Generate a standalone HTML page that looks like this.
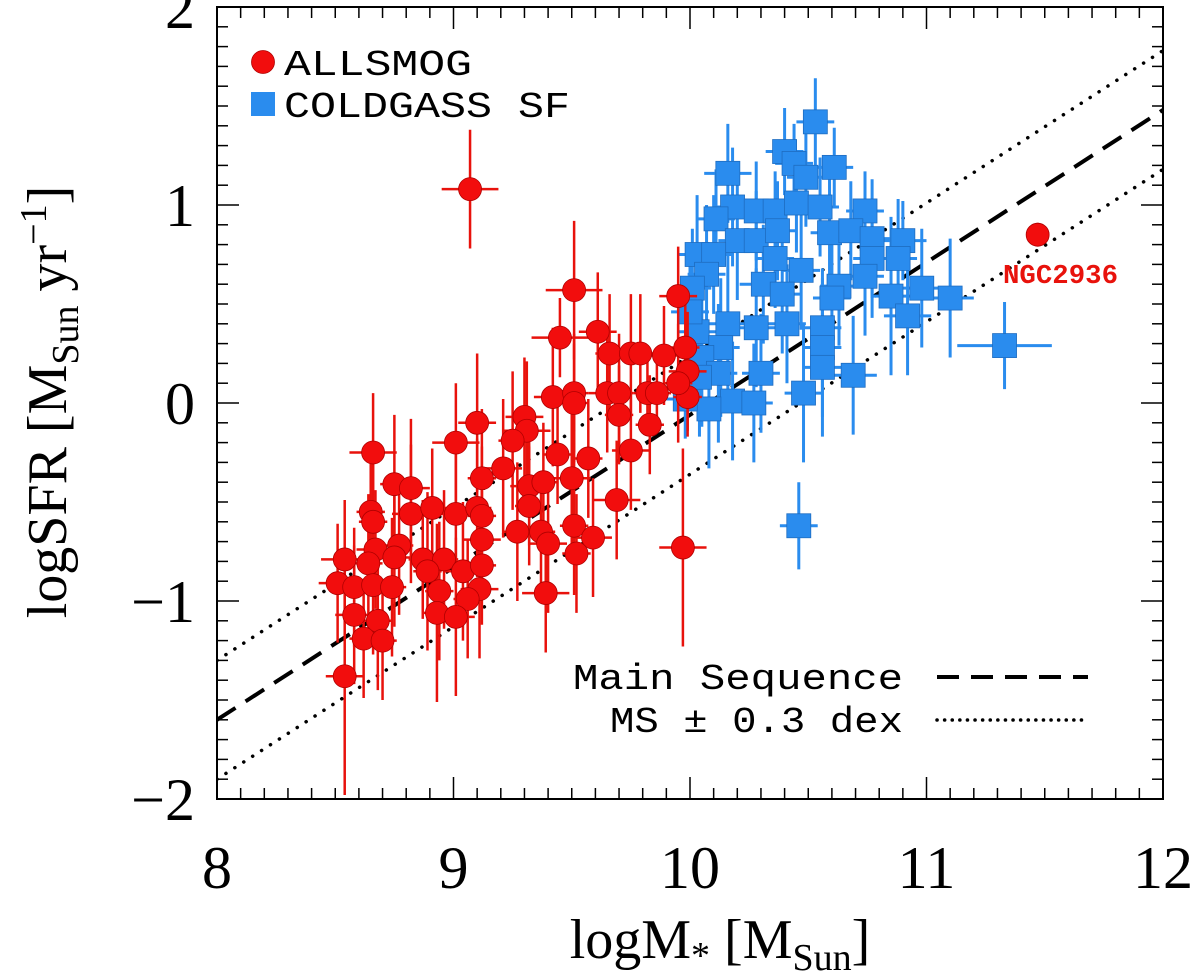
<!DOCTYPE html>
<html><head><meta charset="utf-8"><style>
html,body{margin:0;padding:0;background:#fff;}
svg{display:block;}
</style></head><body>
<svg id="chart" width="1200" height="974" viewBox="0 0 1200 974" xmlns="http://www.w3.org/2000/svg">
<g id="marks"></g>
<g id="axes"></g>
</svg>
<script>
// ---- data ----
const xTicks = [8, 9, 10, 11, 12];
const yTicks = [-2, -1, 0, 1, 2];
const xTickLabels = ["8", "9", "10", "11", "12"];
const yTickLabels = ["\u22122", "\u22121", "0", "1", "2"];
const redX = [9.51,9.45,9.61,9.95,9.66,9.75,9.79,9.89,9.98,9.99,9.99,9.95,9.65,9.70,9.70,9.82,9.86,9.83,9.42,9.51,9.51,9.75,9.44,9.57,9.30,9.31,9.25,9.10,9.01,8.66,9.21,9.12,9.32,9.38,9.50,9.69,9.32,8.75,8.82,8.65,8.66,8.82,8.91,9.01,9.10,9.12,9.12,9.27,9.37,9.40,9.51,9.59,9.52,9.39,8.77,8.67,8.54,8.64,8.75,8.87,8.96,8.89,9.04,9.12,8.51,8.58,8.66,8.74,8.94,9.11,9.06,8.58,8.68,8.93,9.01,8.62,8.70,8.54,9.97,9.07,11.47];
const redY = [0.57,0.33,0.36,0.54,0.25,0.25,0.25,0.24,0.28,0.16,0.03,0.10,0.05,0.05,-0.06,0.05,0.05,-0.11,0.03,0.05,0.00,-0.24,-0.26,-0.28,-0.07,-0.14,-0.19,-0.10,-0.20,-0.25,-0.33,-0.38,-0.42,-0.40,-0.38,-0.49,-0.52,-0.41,-0.43,-0.55,-0.60,-0.56,-0.53,-0.56,-0.53,-0.57,-0.69,-0.65,-0.65,-0.71,-0.62,-0.68,-0.76,-0.96,-0.72,-0.74,-0.79,-0.81,-0.78,-0.79,-0.79,-0.85,-0.85,-0.82,-0.91,-0.93,-0.92,-0.93,-0.95,-0.94,-0.99,-1.07,-1.10,-1.06,-1.08,-1.19,-1.20,-1.38,-0.73,1.08,0.85];
const redXErr = [0.12,0.12,0.08,0.08,0.06,0.06,0.06,0.08,0.06,0.08,0.06,0.06,0.08,0.06,0.06,0.06,0.06,0.06,0.08,0.06,0.06,0.08,0.06,0.06,0.08,0.1,0.06,0.08,0.1,0.1,0.08,0.06,0.08,0.06,0.08,0.1,0.06,0.06,0.08,0.06,0.06,0.08,0.1,0.06,0.06,0.06,0.08,0.06,0.06,0.08,0.06,0.08,0.06,0.1,0.06,0.08,0.1,0.06,0.08,0.06,0.06,0.06,0.08,0.06,0.08,0.06,0.06,0.06,0.06,0.08,0.06,0.08,0.06,0.06,0.08,0.06,0.06,0.08,0.1,0.12,0.04];
const redYErr = [0.35,0.2,0.3,0.25,0.3,0.3,0.3,0.25,0.3,0.3,0.2,0.3,0.3,0.3,0.25,0.2,0.2,0.25,0.35,0.3,0.3,0.3,0.25,0.3,0.3,0.35,0.35,0.35,0.3,0.3,0.35,0.35,0.3,0.3,0.35,0.3,0.3,0.35,0.35,0.25,0.3,0.35,0.3,0.3,0.35,0.35,0.3,0.35,0.3,0.35,0.35,0.3,0.3,0.3,0.35,0.3,0.3,0.35,0.35,0.3,0.35,0.4,0.35,0.3,0.3,0.3,0.35,0.35,0.35,0.35,0.3,0.35,0.35,0.45,0.4,0.3,0.3,0.6,0.5,0.3,0.06];
const blueX = [10.53,10.40,10.44,10.49,10.61,10.16,10.18,10.11,10.28,10.36,10.45,10.55,10.74,10.20,10.28,10.37,10.59,10.68,10.77,10.90,10.03,10.10,10.36,10.07,10.77,10.88,10.47,10.31,10.63,10.74,10.98,11.10,10.01,10.39,10.60,10.85,10.92,10.03,10.16,10.28,10.41,10.56,10.13,10.05,10.56,10.56,10.30,10.12,10.69,10.48,10.18,10.27,10.08,11.33,10.46,9.98,10.00,10.04];
const blueY = [1.42,1.27,1.21,1.14,1.19,1.16,0.99,0.93,0.97,0.97,1.01,0.99,0.97,0.82,0.82,0.87,0.86,0.87,0.83,0.82,0.75,0.75,0.73,0.65,0.73,0.73,0.67,0.60,0.59,0.64,0.58,0.53,0.58,0.55,0.53,0.54,0.44,0.36,0.40,0.38,0.40,0.38,0.28,0.23,0.28,0.18,0.15,0.15,0.14,0.05,0.01,0.00,-0.03,0.29,-0.62,0.02,0.46,0.13];
const blueXErr = [0.08,0.08,0.08,0.08,0.08,0.1,0.08,0.08,0.08,0.08,0.08,0.08,0.08,0.08,0.08,0.08,0.08,0.08,0.08,0.1,0.08,0.08,0.08,0.08,0.08,0.08,0.08,0.1,0.08,0.08,0.1,0.1,0.08,0.08,0.08,0.08,0.1,0.08,0.08,0.1,0.08,0.08,0.08,0.08,0.08,0.08,0.08,0.08,0.1,0.08,0.08,0.08,0.1,0.2,0.08,0.08,0.08,0.08];
const blueYErr = [0.22,0.22,0.2,0.25,0.2,0.25,0.3,0.25,0.25,0.2,0.25,0.25,0.2,0.3,0.25,0.25,0.3,0.25,0.3,0.2,0.3,0.3,0.25,0.35,0.3,0.3,0.3,0.3,0.3,0.3,0.3,0.3,0.3,0.3,0.3,0.4,0.3,0.3,0.35,0.3,0.3,0.3,0.35,0.35,0.35,0.35,0.3,0.35,0.3,0.35,0.3,0.3,0.3,0.22,0.22,0.2,0.3,0.3];
const msSlope = 0.77, msAt8 = -1.6, msOffset = 0.3;

// ---- axes functions ----
const X0 = 217, X1 = 1163, Y0 = 799, Y1 = 7;
const xMin = 8, xMax = 12, yMin = -2, yMax = 2;
const sx = v => X0 + (v - xMin) / (xMax - xMin) * (X1 - X0);
const sy = v => Y0 - (v - yMin) / (yMax - yMin) * (Y0 - Y1);
const NS = "http://www.w3.org/2000/svg";
function mk(tag, attrs, parent, text) {
  const e = document.createElementNS(NS, tag);
  for (const k in attrs) e.setAttribute(k, attrs[k]);
  if (text !== undefined) e.textContent = text;
  parent.appendChild(e);
  return e;
}
const marks = document.getElementById('marks');
const axes = document.getElementById('axes');
const defs = mk('defs', {}, marks);
const cp = mk('clipPath', {id: 'clip'}, defs);
mk('rect', {x: X0, y: Y1, width: X1 - X0, height: Y0 - Y1}, cp);
const clipG = mk('g', {'clip-path': 'url(#clip)'}, marks);

const msLine = mk('line', {x1: sx(8), y1: sy(msAt8), x2: sx(12), y2: sy(msAt8 + 4 * msSlope), stroke: '#000', 'stroke-width': 4, 'stroke-dasharray': '22 12'}, clipG);


[msOffset, -msOffset].forEach((o, i) => {
  const l = mk('line', {x1: sx(8), y1: sy(msAt8 + o), x2: sx(12), y2: sy(msAt8 + 4 * msSlope + o), stroke: '#000', 'stroke-width': 3.5, 'stroke-dasharray': '0.1 10.5', 'stroke-linecap': 'round'}, clipG);
  
  
});

const blueG = mk('g', {}, clipG);


blueX.forEach((x, i) => {
  const y = blueY[i];
  mk('line', {x1: sx(x - blueXErr[i]), x2: sx(x + blueXErr[i]), y1: sy(y), y2: sy(y), stroke: '#2a8cee', 'stroke-width': 3}, blueG);
  mk('line', {x1: sx(x), x2: sx(x), y1: sy(y - blueYErr[i]), y2: sy(y + blueYErr[i]), stroke: '#2a8cee', 'stroke-width': 3}, blueG);
});
blueX.forEach((x, i) => {
  const r = mk('rect', {x: sx(x) - 12, y: sy(blueY[i]) - 12, width: 24, height: 24, fill: '#2a8cee', stroke: '#1e6cc0', 'stroke-width': 0.8}, blueG);
  
  
});

const redG = mk('g', {}, clipG);


redX.forEach((x, i) => {
  const y = redY[i];
  mk('line', {x1: sx(x - redXErr[i]), x2: sx(x + redXErr[i]), y1: sy(y), y2: sy(y), stroke: '#e8120c', 'stroke-width': 2.5}, redG);
  mk('line', {x1: sx(x), x2: sx(x), y1: sy(y - redYErr[i]), y2: sy(y + redYErr[i]), stroke: '#e8120c', 'stroke-width': 2.5}, redG);
});
redX.forEach((x, i) => {
  const c = mk('circle', {cx: sx(x), cy: sy(redY[i]), r: 11.5, fill: '#f20d0d', stroke: '#b00000', 'stroke-width': 0.8}, redG);
  
  
});

mk('rect', {x: X0, y: Y1, width: X1 - X0, height: Y0 - Y1, fill: 'none', stroke: '#000', 'stroke-width': 2}, axes);
for (let k = 0; k <= 40; k++) {
  const v = xMin + k * 0.1, L = (k % 10 === 0) ? 22 : 11;
  mk('line', {x1: sx(v), x2: sx(v), y1: Y0, y2: Y0 - L, stroke: '#000', 'stroke-width': 1.5}, axes);
  mk('line', {x1: sx(v), x2: sx(v), y1: Y1, y2: Y1 + L, stroke: '#000', 'stroke-width': 1.5}, axes);
}
for (let k = 0; k <= 40; k++) {
  const v = yMin + k * 0.1, L = (k % 10 === 0) ? 22 : 11;
  mk('line', {y1: sy(v), y2: sy(v), x1: X0, x2: X0 + L, stroke: '#000', 'stroke-width': 1.5}, axes);
  mk('line', {y1: sy(v), y2: sy(v), x1: X1, x2: X1 - L, stroke: '#000', 'stroke-width': 1.5}, axes);
}
xTicks.forEach((v, i) => {
  const t = mk('text', {x: sx(v), y: 888, 'text-anchor': 'middle', 'font-family': 'Liberation Serif, serif', 'font-size': 60}, axes, xTickLabels[i]);
  
  
});
yTicks.forEach((v, i) => {
  const t = mk('text', {x: 195, y: sy(v) + 21, 'text-anchor': 'end', 'font-family': 'Liberation Serif, serif', 'font-size': 60}, axes, yTickLabels[i]);
  
  
});
</script>
<svg style="position:absolute;left:0;top:0" width="1200" height="974">
  <text x="720" y="958" text-anchor="middle" font-family="Liberation Serif, serif" font-size="56">logM<tspan font-size="38" dy="10">*</tspan><tspan dy="-10"> [M</tspan><tspan font-size="38" dy="12">Sun</tspan><tspan dy="-12">]</tspan></text>
  <text transform="translate(66,402) rotate(-90)" text-anchor="middle" font-family="Liberation Serif, serif" font-size="56">logSFR [M<tspan font-size="38" dy="12">Sun</tspan><tspan dy="-12"> yr</tspan><tspan font-size="38" dy="-20">−1</tspan><tspan dy="20">]</tspan></text>
  <g>
    <circle cx="263" cy="62" r="11.5" fill="#f20d0d" stroke="#b00000" stroke-width="0.8"/>
    <text x="284" y="75" font-family="Liberation Mono, monospace" font-size="36" textLength="188" lengthAdjust="spacingAndGlyphs">ALLSMOG</text>
    <rect x="251" y="92" width="24" height="24" fill="#2a8cee"/>
    <text x="284" y="117" font-family="Liberation Mono, monospace" font-size="36" textLength="286" lengthAdjust="spacingAndGlyphs">COLDGASS SF</text>
    <text x="573" y="689" font-family="Liberation Mono, monospace" font-size="36" textLength="330" lengthAdjust="spacingAndGlyphs">Main Sequence</text>
    <line x1="937" y1="677" x2="1088" y2="677" stroke="#000" stroke-width="4" stroke-dasharray="22 12"/>
    <text x="610" y="732" font-family="Liberation Mono, monospace" font-size="36" textLength="293" lengthAdjust="spacingAndGlyphs">MS ± 0.3 dex</text>
    <line x1="937" y1="720" x2="1088" y2="720" stroke="#000" stroke-width="3.5" stroke-dasharray="0.1 7.5" stroke-linecap="round"/>
  </g>
  <text x="1003" y="283" font-family="Liberation Mono, monospace" font-size="27" font-weight="bold" fill="#e8120c" textLength="115" lengthAdjust="spacingAndGlyphs">NGC2936</text>
</svg>
</body></html>
